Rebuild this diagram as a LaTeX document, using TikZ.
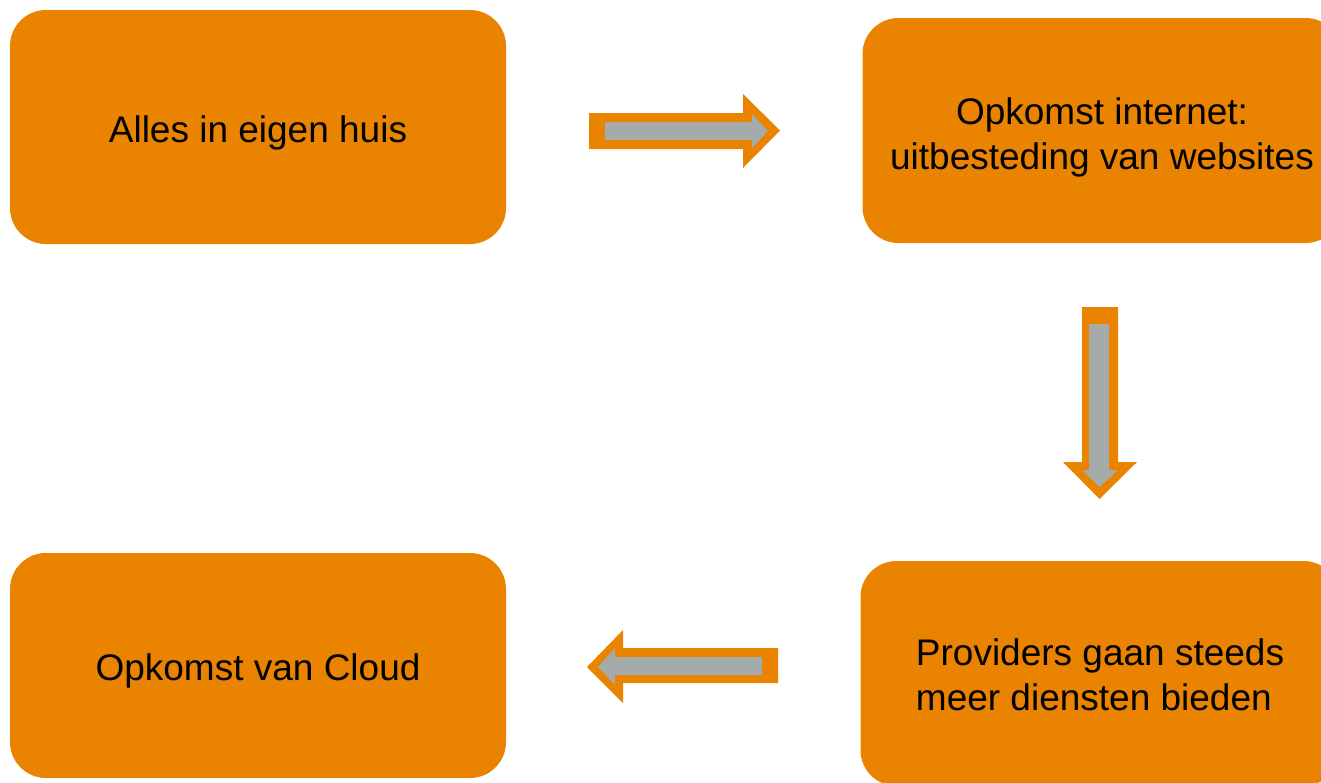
\documentclass[tikz,border=0pt]{standalone}
\usepackage{fontspec}
\setmainfont{Liberation Sans}
\definecolor{boxorange}{RGB}{233,131,0}
\definecolor{arrowgray}{RGB}{165,170,170}
% lower a text inside its node without changing the node's centring
\newcommand{\lowertext}[2]{\raisebox{-#1}[\height][\depth]{#2}}
\begin{document}
\begin{tikzpicture}[x=1pt,y=-1pt,
  stage/.style={fill=boxorange, draw=none, rounded corners=36pt,
    inner sep=0pt, font=\fontsize{37}{45}\selectfont, text=black},
  outerarrow/.style={fill=boxorange, draw=none},
  innerarrow/.style={fill=arrowgray, draw=none}]
\useasboundingbox (0,0) rectangle (1321,782);
\begin{scope}
\clip (0,0) rectangle (1321,782);
% the four stages
\node[stage, minimum width=496pt, minimum height=234pt] (home) at (258,127)
  {\lowertext{6pt}{Alles in eigen huis}};
\node[stage, minimum width=479pt, minimum height=225pt] (web) at (1102,130.5)
  {\lowertext{7pt}{\begin{tabular}{@{}c@{}}Opkomst internet:\\uitbesteding van websites\end{tabular}}};
\node[stage, minimum width=479pt, minimum height=225pt] (prov) at (1100,673.5)
  {\lowertext{5pt}{\begin{tabular}{@{}l@{}}Providers gaan steeds\\meer diensten bieden\end{tabular}}};
\node[stage, minimum width=496pt, minimum height=225pt] (cloud) at (258,665.5)
  {\lowertext{5pt}{Opkomst van Cloud}};
\end{scope}
% block arrow: home -> web
\fill[outerarrow] (589,113) -- (743,113) -- (743,94) -- (780,130.5) -- (743,168) -- (743,149) -- (589,149) -- cycle;
\fill[innerarrow] (605,122) -- (752,122) -- (752,114) -- (768,131) -- (752,148) -- (752,140) -- (605,140) -- cycle;
% block arrow: web -> prov
\fill[outerarrow] (1082,307) -- (1118,307) -- (1118,462) -- (1137,462) -- (1099.5,499) -- (1063,462) -- (1082,462) -- cycle;
\fill[innerarrow] (1089,324) -- (1109,324) -- (1109,470) -- (1118,470) -- (1099.5,487) -- (1082,470) -- (1089,470) -- cycle;
% block arrow: prov -> cloud
\fill[outerarrow] (778,648) -- (623,648) -- (623,630) -- (587,667) -- (623,703) -- (623,683) -- (778,683) -- cycle;
\fill[innerarrow] (762,657) -- (615,657) -- (615,648) -- (598,667) -- (615,685) -- (615,675) -- (762,675) -- cycle;
\end{tikzpicture}
\end{document}
